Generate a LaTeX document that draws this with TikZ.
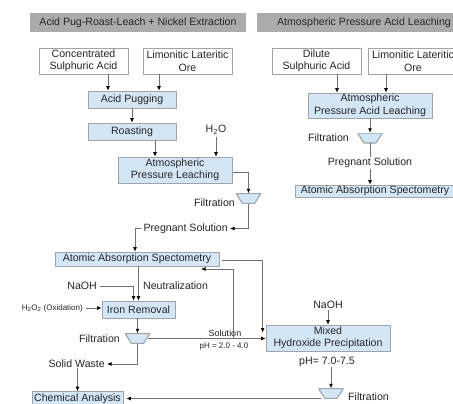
\documentclass[tikz,border=0pt]{standalone}
\usepackage{fontspec}
\setmainfont{Liberation Sans}
\usetikzlibrary{arrows.meta}
\definecolor{hdr}{HTML}{ABABAB}
\definecolor{boxfill}{HTML}{D3E6F5}
\definecolor{boxline}{HTML}{A0A4A8}
\definecolor{lin}{HTML}{707070}
\definecolor{txt}{HTML}{262626}
\begin{document}
\begin{tikzpicture}[x=1pt,y=-1pt,
 font=\fontsize{10.6}{12.5}\selectfont, text=txt,
 every node/.style={inner sep=0pt, align=center},
 hdrbox/.style={fill=hdr, minimum height=19pt},
 whitebox/.style={draw=boxline, fill=white, minimum height=26pt, line width=0.7pt},
 bluebox/.style={draw=boxline, fill=boxfill, line width=0.7pt},
 funnel/.style={minimum width=25pt, minimum height=10pt,
   path picture={\draw[draw=boxline, fill=boxfill, line width=1.1pt]
     (path picture bounding box.north west) -- (path picture bounding box.north east)
     -- ([xshift=-6.5pt]path picture bounding box.south east)
     -- ([xshift=6.5pt]path picture bounding box.south west) -- cycle;}},
 small/.style={font=\fontsize{8}{9}\selectfont},
 arr/.style={draw=lin, line width=0.7pt, -{Latex[length=4.5pt,width=3.8pt,color=black]}}]
\path[use as bounding box] (0,0) rectangle (453,404);
\clip (0,0) rectangle (453,404);
\fill[white] (0,0) rectangle (453,404);
% headers
\node[hdrbox, minimum width=216pt] (h1) at (138,22.5) {Acid Pug-Roast-Leach + Nickel Extraction};
\node[hdrbox, minimum width=214pt] (h2) at (364,22.5) {Atmospheric Pressure Acid Leaching};
% left process
\node[whitebox, minimum width=89pt] (csa) at (83.5,61) {Concentrated\\Sulphuric Acid};
\node[whitebox, minimum width=89pt] (llo1) at (187.5,61) {Limonitic Lateritic\\Ore};
\node[bluebox, minimum width=88pt, minimum height=17pt] (ap) at (132,99.5) {Acid Pugging};
\node[bluebox, minimum width=88pt, minimum height=17pt] (ro) at (132,131.5) {Roasting};
\node (h2o) at (216,130) {H\textsubscript{2}O};
\node[bluebox, minimum width=114pt, minimum height=26pt] (apl) at (175,170) {Atmospheric\\Pressure Leaching};
\node[funnel] (f1) at (248.5,198.5) {};
\node[anchor=east] (fil1) at (235,203) {Filtration};
\node[anchor=east] (ps1) at (228,228.5) {Pregnant Solution};
\node[bluebox, minimum width=164pt, minimum height=14pt] (aas1) at (137,259) {Atomic Absorption Spectometry};
\node[anchor=east] (naoh1) at (97,286) {NaOH};
\node[anchor=west] (neut) at (143,286) {Neutralization};
\node[bluebox, minimum width=73pt, minimum height=17pt] (ir) at (138.5,309.5) {Iron Removal};
\node[small, anchor=east] (h2o2) at (83,308) {H\textsubscript{2}O\textsubscript{2} (Oxidation)};
\node[funnel] (f2) at (137.5,338.5) {};
\node[anchor=east] (fil2) at (120,339) {Filtration};
\node[anchor=east] (sw) at (105,364) {Solid Waste};
\node[bluebox, minimum width=91pt, minimum height=14pt] (ca) at (77.5,398.5) {Chemical Analysis};
\node[font=\fontsize{9}{10}\selectfont] (sol) at (225,333.5) {Solution};
\node[small] (ph1) at (224,347) {pH = 2.0 - 4.0};
\node (naoh2) at (328,305) {NaOH};
\node[bluebox, minimum width=124pt, minimum height=26pt] (mhp) at (328,338) {Mixed\\Hydroxide Precipitation};
\node (ph2) at (327,362) {pH= 7.0-7.5};
\node[funnel] (f3) at (331,393.5) {};
\node[anchor=west] (fil3) at (348,397) {Filtration};
% right process
\node[whitebox, minimum width=89pt] (dsa) at (316.5,61) {Dilute\\Sulphuric Acid};
\node[whitebox, minimum width=90pt] (llo2) at (413,61) {Limonitic Lateritic\\Ore};
\node[bluebox, minimum width=124pt, minimum height=25pt] (apal) at (370,105.5) {Atmospheric\\Pressure Acid Leaching};
\node[funnel] (f4) at (370,138) {};
\node[anchor=east] (fil4) at (349,138) {Filtration};
\node[bluebox, minimum width=160pt, minimum height=12pt] (aas2) at (375,191) {Atomic Absorption Spectometry};
\coordinate (fb) at (233,338.5);
\coordinate (fbe) at (201,269);
% connectors left
\draw[arr] ([xshift=24.5pt]csa.south) -- ([xshift=24.5pt]csa.south |- ap.north);
\draw[arr] ([xshift=-28.5pt]llo1.south) -- ([xshift=-28.5pt]llo1.south |- ap.north);
\draw[arr] (ap.south) -- (ro.north);
\draw[arr] ([xshift=23pt]ro.south) -- ([xshift=23pt]ro.south |- apl.north);
\draw[arr] ([yshift=-2pt]h2o.south) -- (h2o.south |- apl.north);
\draw[arr] ([xshift=1pt,yshift=-2pt]apl.east) -| (f1.north);
\draw[arr] (f1.south) |- ([xshift=2pt]ps1.east);
\draw[arr] ([xshift=-2pt]ps1.west) -| ([xshift=-2pt]aas1.north);
\draw[arr] ([xshift=3pt,yshift=-1.5pt]aas1.east) -| ([xshift=-3pt,yshift=-8pt]mhp.north west);
\draw[arr] (aas1.south -| ir.north) -- (ir.north);
\draw[arr] ([xshift=3pt]naoh1.east) -| ([xshift=-5pt]ir.north);
\draw[arr] ([xshift=3pt]h2o2.east) -- (h2o2.east -| ir.west);
\draw[arr] (ir.south -| f2.north) -- (f2.north);
\draw[arr] (f2.south) |- ([xshift=2pt]sw.east);
\draw[arr] (sw.south -| ca.north) -- (ca.north);
\draw[arr] ([xshift=-2pt]f2.east) -- (f2.east -| mhp.west);
\draw[arr] (fb) |- (fbe);
\draw[arr] ([yshift=-1pt]naoh2.south) -- (mhp.north);
\draw[arr] ([xshift=4pt]ph2.south) -- ([xshift=4pt]ph2.south |- f3.north);
\draw[arr] ([xshift=3pt]f3.west |- ca.east) -- ([xshift=3pt]ca.east);
% connectors right
\draw[arr] ([xshift=20.5pt]dsa.south) -- ([xshift=20.5pt]dsa.south |- apal.north);
\draw[arr] ([xshift=-27pt]llo2.south) -- ([xshift=-27pt]llo2.south |- apal.north);
\draw[arr] (apal.south -| f4.north) -- (f4.north);
\draw[arr] (f4.south) -- (f4.south |- aas2.north);
\node[fill=white, inner sep=1pt] (ps2) at (370,163) {Pregnant Solution};
\end{tikzpicture}
\end{document}
